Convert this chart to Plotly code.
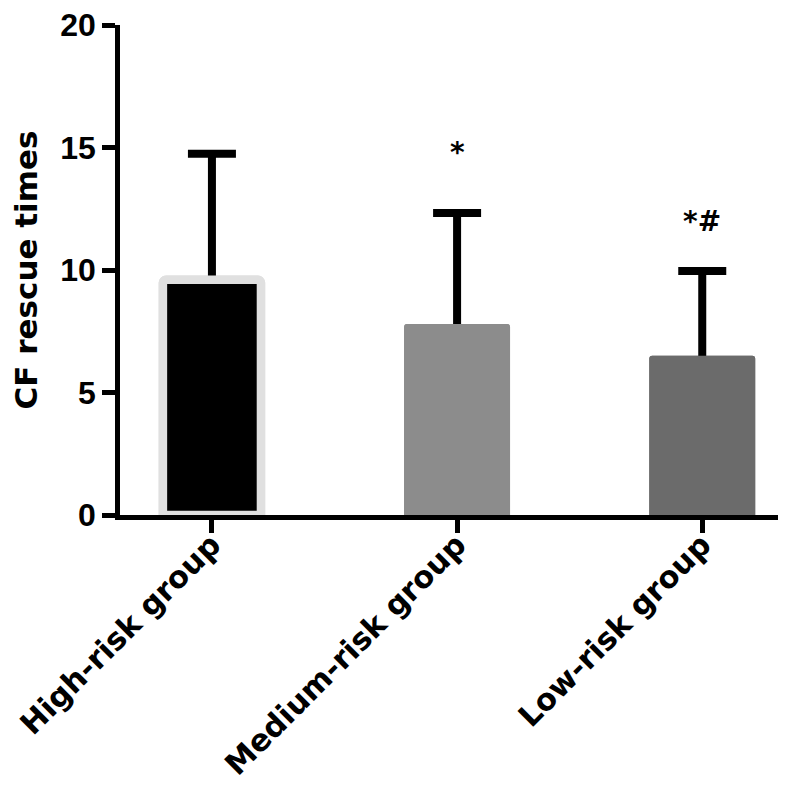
import plotly.graph_objects as go

groups = ["High-risk group", "Medium-risk group", "Low-risk group"]
means = [9.6, 7.8, 6.5]
sds = [5.15, 4.53, 3.46]
sig_labels = ["", "*", "*#"]
sig_y = [None, 14.8, 12.0]
y_ticks = [0, 5, 10, 15, 20]

bar_colors = ["#000000", "#8c8c8c", "#6b6b6b"]
line_colors = ["#e0e0e0", "#8c8c8c", "#6b6b6b"]
line_widths = [8.5, 0, 0]
bar_widths = [0.40, 0.432, 0.432]
x_pos = list(range(len(groups)))

NUM_FONT = "Liberation Sans"
TXT_FONT = "DejaVu Sans"

fig = go.Figure()
# bars with error bars (symmetric; the lower half is hidden by the overlay bars)
fig.add_trace(go.Bar(
    x=x_pos, y=means, width=bar_widths,
    marker=dict(color=bar_colors, line=dict(color=line_colors, width=line_widths)),
    error_y=dict(type="data", array=sds, symmetric=True, color="black", thickness=8, width=24),
    showlegend=False, hoverinfo="skip",
))
fig.add_trace(go.Bar(
    x=x_pos, y=means, width=bar_widths,
    marker=dict(color=bar_colors, line=dict(color=line_colors, width=line_widths)),
    showlegend=False,
))

for i, (lab, yy) in enumerate(zip(sig_labels, sig_y)):
    if lab:
        fig.add_annotation(x=i, y=yy, text=lab, showarrow=False, xanchor="center", yanchor="middle",
                           font=dict(size=28, color="black", family=TXT_FONT, weight="bold"))

fig.update_layout(
    width=772, height=778,
    barmode="overlay",
    barcornerradius=3,
    plot_bgcolor="white", paper_bgcolor="white",
    margin=dict(l=112, r=2, t=17, b=271, autoexpand=False),
    font=dict(family=NUM_FONT, size=32, color="black", weight="bold"),
    showlegend=False,
)
fig.update_xaxes(
    range=[-0.375, 2.309],
    tickmode="array", tickvals=x_pos, ticktext=groups, tickangle=-45,
    showgrid=False, zeroline=False,
    showline=True, linecolor="black", linewidth=4.5,
    ticks="outside", ticklen=13, tickwidth=4.5, tickcolor="black",
    tickfont=dict(size=30.5, family=TXT_FONT, weight="bold"),
    ticklabelstandoff=-18,
    ticklabeloverflow="allow",
    automargin=False,
)
fig.update_yaxes(
    range=[0, 20],
    tickmode="array", tickvals=y_ticks,
    showgrid=False, zeroline=False,
    showline=True, linecolor="black", linewidth=4.5,
    ticks="outside", ticklen=13, tickwidth=4.5, tickcolor="black",
    tickfont=dict(size=32, family=NUM_FONT, weight="bold"),
    ticklabeloverflow="allow",
    title=dict(text="CF rescue times", standoff=27,
               font=dict(size=31, family=TXT_FONT, weight="bold")),
    automargin=False,
)

fig.write_html("out.html")
